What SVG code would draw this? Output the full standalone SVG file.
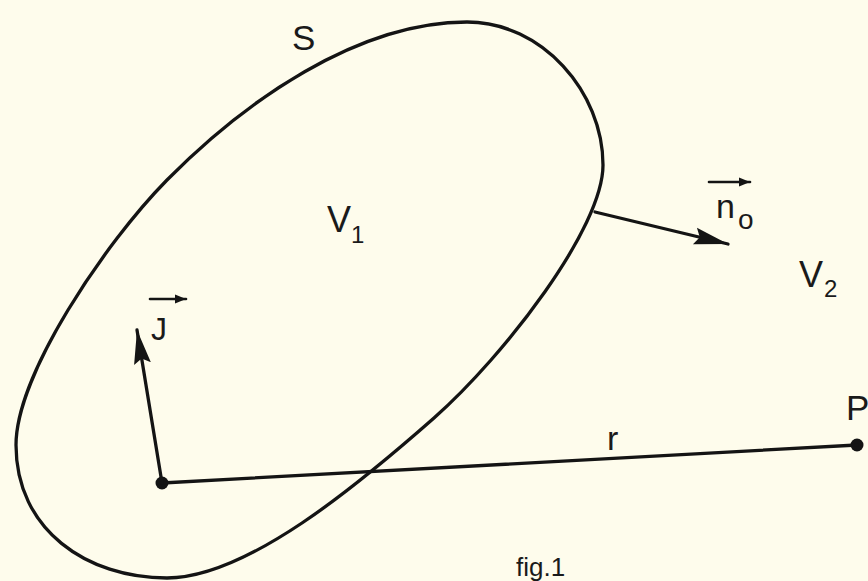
<svg xmlns="http://www.w3.org/2000/svg" width="868" height="581" viewBox="0 0 868 581">
<style>
.ln{fill:none;stroke:#141414;stroke-width:3.3;stroke-linecap:round}
.thin{fill:none;stroke:#141414;stroke-width:2.6;stroke-linecap:round}
.t{font-family:"Liberation Sans",Arial,sans-serif;fill:#1a1a1a}
.dot{fill:#141414}
</style>
<defs>
<marker id="ah" markerUnits="userSpaceOnUse" markerWidth="40" markerHeight="20" refX="34" refY="9" orient="auto">
<path d="M0,0.5 L34,9 L0,17.5 L5,9 Z" fill="#141414"/>
</marker>
<marker id="sa" markerUnits="userSpaceOnUse" markerWidth="14" markerHeight="12" refX="11" refY="5" orient="auto">
<path d="M0,0.5 L11,5 L0,9.5 Z" fill="#141414"/>
</marker>
</defs>
<rect width="868" height="581" fill="#FEFCEC"/>
<g id="surface">
<path class="ln" stroke-width="4" d="M467,22 C542,22 603,92 603,165 C603,228 505,355 434,418 C359,484 247,578 167,578 C87,578 16,530 16,445 C16,375 104,244 167,180 C244,102 357,22 467,22 Z"/>
<text class="t" x="292" y="50" font-size="35">S</text>
<text class="t" x="327" y="232" font-size="36">V</text>
<text class="t" x="351" y="243" font-size="24">1</text>
</g>
<g id="region-v2">
<text class="t" x="799" y="287" font-size="36">V</text>
<text class="t" x="824" y="297" font-size="24">2</text>
</g>
<g id="source">
<circle class="dot" cx="162" cy="483" r="6.5"/>
<text class="t" x="151" y="340" font-size="32">J</text>
<line class="thin" x1="150" y1="299" x2="186" y2="299" marker-end="url(#sa)"/>
</g>
<g id="point-p">
<circle class="dot" cx="857" cy="445" r="6.5"/>
<text class="t" x="846" y="420" font-size="35">P</text>
</g>
<g id="normal-label">
<text class="t" x="716" y="218" font-size="34">n</text>
<text class="t" x="738" y="229" font-size="28">o</text>
<line class="thin" x1="709" y1="182" x2="750" y2="182" marker-end="url(#sa)"/>
</g>
<g id="connectors">
<line class="ln" x1="162" y1="483" x2="857" y2="445"/>
<line class="ln" x1="162" y1="483" x2="137" y2="330" marker-end="url(#ah)"/>
<line class="ln" stroke-width="2.8" x1="595" y1="212" x2="728" y2="244" marker-end="url(#ah)"/>
<text class="t" x="607" y="450" font-size="34">r</text>
</g>
<text class="t" x="516" y="576" font-size="26">fig.1</text>
</svg>
